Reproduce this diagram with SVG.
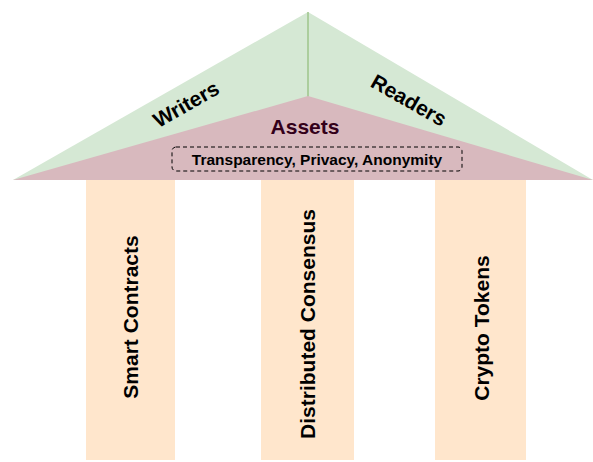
<svg xmlns="http://www.w3.org/2000/svg" width="593" height="462" viewBox="0 0 593 462">
<style>
.lbl{font-family:"Liberation Sans",Arial,sans-serif;font-weight:bold;fill:#000;text-anchor:middle;dominant-baseline:central}
.pillar{fill:#FFE6CC;stroke:none}
</style>
<rect width="593" height="462" fill="#fff"/>
<g id="roof">
<polygon points="13,180 308,12 593,180" fill="#D5E8D4"/>
<line x1="308" y1="12" x2="308" y2="97" stroke="#82B366" stroke-width="1"/>
</g>
<g id="assets">
<polygon points="13,180 308,96 593,180" fill="#D8B9BE"/>
<text class="lbl" x="305" y="126" font-size="21" style="fill:#33001A">Assets</text>
</g>
<g id="writers"><text class="lbl" x="186" y="104" font-size="21" transform="rotate(-29.7 186 104)">Writers</text></g>
<g id="readers"><text class="lbl" x="409" y="100" font-size="21" transform="rotate(29.7 409 100)">Readers</text></g>
<g id="properties">
<rect x="172" y="147" width="290" height="24" rx="4" fill="none" stroke="#000" stroke-dasharray="4 3"/>
<text class="lbl" x="317" y="159" font-size="15.5">Transparency, Privacy, Anonymity</text>
</g>
<g id="smart-contracts">
<rect class="pillar" x="86" y="180" width="89" height="280"/>
<text class="lbl" x="130" y="317" font-size="21" transform="rotate(-90 130 317)">Smart Contracts</text>
</g>
<g id="distributed-consensus">
<rect class="pillar" x="261" y="180" width="93" height="280"/>
<text class="lbl" x="307" y="324" font-size="21" transform="rotate(-90 307 324)">Distributed Consensus</text>
</g>
<g id="crypto-tokens">
<rect class="pillar" x="435" y="180" width="91" height="280"/>
<text class="lbl" x="481" y="328" font-size="21" transform="rotate(-90 481 328)">Crypto Tokens</text>
</g>
<g id="connectors"></g>
</svg>
